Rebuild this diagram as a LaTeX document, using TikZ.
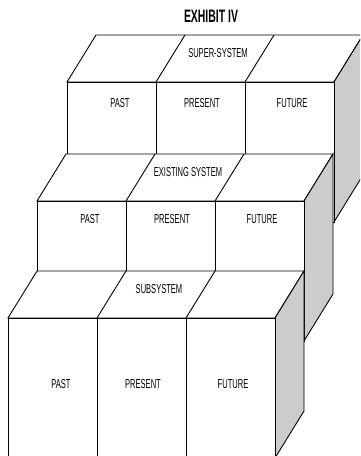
\documentclass[tikz,border=0pt]{standalone}
\usepackage{fontspec}
\newfontfamily\narrowsf[FakeStretch=0.58]{Liberation Sans}
\usetikzlibrary{calc}
\definecolor{sidegray}{gray}{0.8}
\tikzset{
  every node/.style={
    inner sep=0pt,
    font=\narrowsf\fontsize{13}{13}\selectfont
  },
  face/.style={draw,fill=white,line join=miter},
  side/.style={draw,fill=sidegray,line join=miter},
  pics/block/.style n args={2}{
    code={
      % 上面
      \path[face] (0,0) -- (29,-47) -- (296,-47) -- (267,0) -- cycle;
      \draw (89,0) -- (118,-47);
      \draw (178,0) -- (207,-47);
      % 側面
      \path[side] (267,0) -- (296,-47) -- (296,93) -- (267,140) -- cycle;
      % 正面
      \path[face] (0,0) rectangle (267,140);
      \draw (89,0) -- (89,140);
      \draw (178,0) -- (178,140);
      % ラベル
      \node (-sys) at (151,-29) {#1};
      \node (-past) at (53,#2) {PAST};
      \node (-present) at (135,#2) {PRESENT};
      \node (-future) at (225,#2) {FUTURE};
    }
  }
}

\begin{document}
\begin{tikzpicture}[x=1pt,y=-1pt,line width=0.9pt]
    \useasboundingbox (0,0) rectangle (360,456);
    \clip (0,0) rectangle (360,456);

    % タイトル
    \node[font=\narrowsf\bfseries\fontsize{18}{18}\selectfont] (title) at (211,16) {EXHIBIT IV};

    % ブロック（奥から手前へ）
    \pic (sup) at (67,82) {block={SUPER-SYSTEM}{21}};
    \pic (exs) at (37,201) {block={EXISTING SYSTEM}{18}};
    \pic (sub) at (8,318) {block={SUBSYSTEM}{66}};
\end{tikzpicture}
\end{document}
